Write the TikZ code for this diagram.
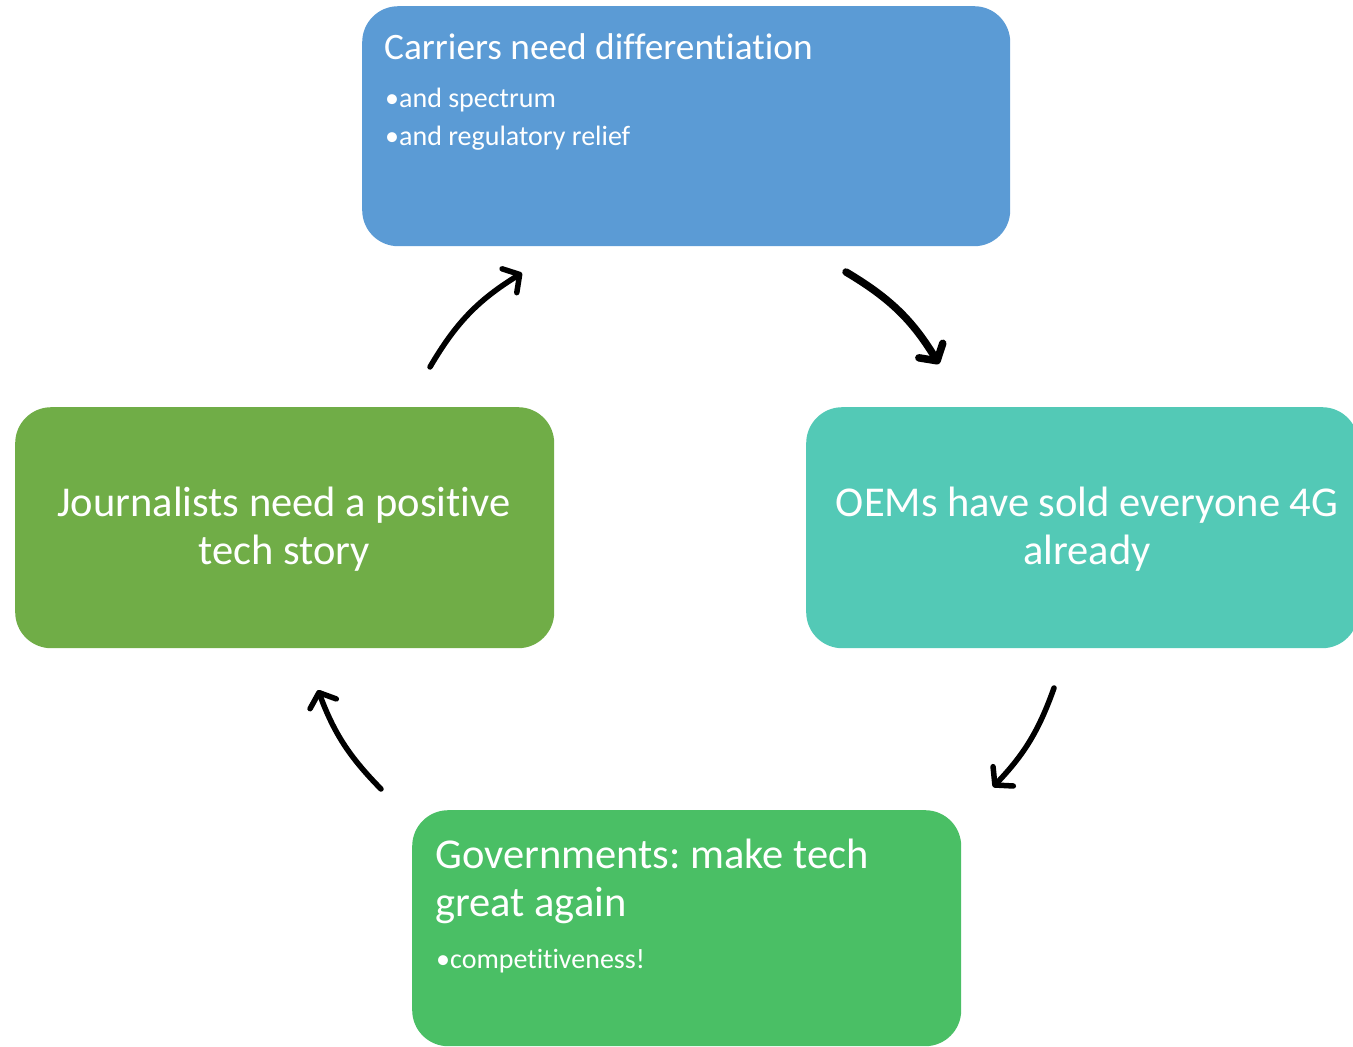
\documentclass[tikz,border=0pt]{standalone}
\usepackage{fontspec}
\setmainfont{Carlito}[Ligatures={NoCommon,NoRequired,NoContextual}]
\usetikzlibrary{arrows.meta}
\definecolor{cblue}{RGB}{91,155,213}
\definecolor{cteal}{RGB}{83,201,182}
\definecolor{cdgreen}{RGB}{112,173,71}
\definecolor{cgreen}{RGB}{74,191,101}
\frenchspacing
\begin{document}
\begin{tikzpicture}[x=1pt,y=-1pt,
  card/.style={rectangle, rounded corners=36pt, anchor=north west, inner sep=0pt, draw=none},
  headtxt/.style={text=white, inner sep=0pt, font=\fontsize{37.3}{44}\selectfont},
  bigtxt/.style={text=white, inner sep=0pt, font=\fontsize{42.5}{48}\selectfont},
  bultxt/.style={text=white, inner sep=0pt, font=\fontsize{28}{33}\selectfont},
  cyc/.style={line width=5.5pt, line cap=round, -{Straight Barb[length=12pt,width=28pt,round]}},
  cycthick/.style={cyc, line width=7.5pt}]
\useasboundingbox (0,0) rectangle (1353,1047);
% boxes
\node[card, fill=cblue, minimum width=648pt, minimum height=240pt] (carriers) at (362,6) {};
\node[card, fill=cteal, minimum width=552pt, minimum height=241pt] (oems) at (806,407) {};
\node[card, fill=cdgreen, minimum width=539pt, minimum height=241pt] (journ) at (15,407) {};
\node[card, fill=cgreen, minimum width=549pt, minimum height=236pt] (gov) at (412,810) {};
% texts
\node[headtxt, anchor=base west] (t1) at (384,59) {Carriers need differentiation};
\node[bultxt, anchor=base west] (t1a) at (385,107) {•and spectrum};
\node[bultxt, anchor=base west] (t1b) at (385,145) {•and regulatory relief};
\node[bigtxt, anchor=base] (t2a) at (1087,516) {OEMs have sold everyone 4G};
\node[bigtxt, anchor=base] (t2b) at (1087,564) {already};
\node[bigtxt, anchor=base] (t4a) at (284,516) {Journalists need a positive};
\node[bigtxt, anchor=base] (t4b) at (284,564) {tech story};
\node[bigtxt, anchor=base west] (t3a) at (435,868) {Governments: make tech};
\node[bigtxt, anchor=base west] (t3b) at (435,916) {great again};
\node[bultxt, anchor=base west] (t3c) at (436,968) {•competitiveness!};
% arrows
\coordinate (a1s) at (846,272);
\coordinate (a1e) at (939,364);
\coordinate (a2s) at (1054,688);
\coordinate (a2e) at (993,787);
\coordinate (a3s) at (381,789);
\coordinate (a3e) at (318,690);
\coordinate (a4s) at (430,367);
\coordinate (a4e) at (522,273);
\draw[cycthick] (a1s) to[bend left=14] (a1e);
\draw[cyc] (a2s) to[bend left=12] (a2e);
\draw[cyc] (a3s) to[bend left=12] (a3e);
\draw[cyc] (a4s) to[bend left=14] (a4e);
\end{tikzpicture}
\end{document}
